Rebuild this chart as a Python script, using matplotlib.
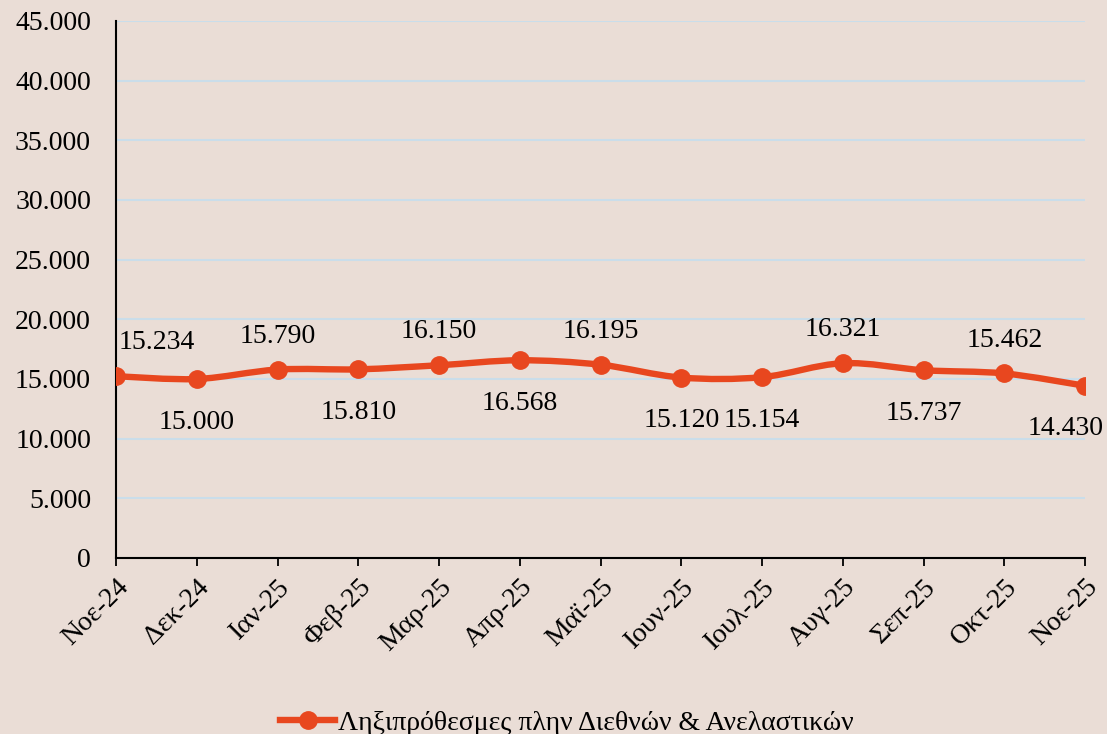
import numpy as np
import matplotlib.pyplot as plt
from matplotlib.path import Path
from matplotlib.patches import PathPatch
from matplotlib.lines import Line2D
from matplotlib.ticker import FuncFormatter

# Δεδομένα
months = ['Νοε-24', 'Δεκ-24', 'Ιαν-25', 'Φεβ-25', 'Μαρ-25', 'Απρ-25', 'Μαϊ-25',
          'Ιουν-25', 'Ιουλ-25', 'Αυγ-25', 'Σεπ-25', 'Οκτ-25', 'Νοε-25']
values = [15234, 15000, 15790, 15810, 16150, 16568, 16195,
          15120, 15154, 16321, 15737, 15462, 14430]
label_above = [True, False, True, False, True, False, True,
               False, False, True, False, True, False]
series_name = 'Ληξιπρόθεσμες πλην Διεθνών & Ανελαστικών'

bg = '#EADDD6'
orange = '#E8471F'
grid_col = '#CADDEA'
fs = 20

plt.rcParams['font.family'] = ['Liberation Serif', 'DejaVu Serif']

fig = plt.figure(figsize=(11.07, 7.34), dpi=100, facecolor=bg)
ax = fig.add_axes([0.1048, 0.2398, 0.8754, 0.7316], facecolor=bg)

x = np.arange(len(values))
y = np.array(values, dtype=float)

# καμπύλη εξομάλυνσης (Bezier) όπως στο Excel
verts = [(x[0], y[0])]
codes = [Path.MOVETO]
n = len(x)
for i in range(n - 1):
    p0 = np.array([x[max(i - 1, 0)], y[max(i - 1, 0)]])
    p1 = np.array([x[i], y[i]])
    p2 = np.array([x[i + 1], y[i + 1]])
    p3 = np.array([x[min(i + 2, n - 1)], y[min(i + 2, n - 1)]])
    c1 = p1 + (p2 - p0) / 6
    c2 = p2 - (p3 - p1) / 6
    verts += [tuple(c1), tuple(c2), tuple(p2)]
    codes += [Path.CURVE4] * 3
ax.add_patch(PathPatch(Path(verts, codes), facecolor='none', edgecolor=orange,
                       lw=4.6, capstyle='round', zorder=3))
ax.plot(x, y, 'o', color=orange, markersize=12.5, zorder=4)

for i, v in enumerate(values):
    txt = f'{v:,}'.replace(',', '.')
    dy = 24 if label_above[i] else -31
    dx = 0
    if i == 0:
        dx = 29
    if i == n - 1:
        dx = -14
    ax.annotate(txt, (x[i], v), xytext=(dx, dy), textcoords='offset points',
                ha='center', va='center', fontsize=fs, color='black', zorder=5)

ax.set_xlim(0, 12)
ax.set_ylim(0, 45000)
ax.set_yticks(np.arange(0, 45001, 5000))
ax.yaxis.set_major_formatter(FuncFormatter(lambda v, p: f'{int(v):,}'.replace(',', '.')))
ax.grid(axis='y', color=grid_col, lw=1.5, zorder=0)
ax.set_axisbelow(True)

ax.set_xticks(x)
ax.set_xticklabels(months, rotation=45, ha='right', rotation_mode='anchor')
ax.tick_params(axis='x', direction='out', length=6, width=1.3, labelsize=fs, pad=6)
ax.tick_params(axis='y', length=0, labelsize=fs, pad=18)

for s in ['top', 'right']:
    ax.spines[s].set_visible(False)
for s in ['left', 'bottom']:
    ax.spines[s].set_linewidth(1.5)
    ax.spines[s].set_color('black')
ax.spines['bottom'].set_zorder(2)

handle = Line2D([], [], color=orange, lw=4.6, marker='o', markersize=12.5)
fig.legend([handle], [series_name], loc='lower center', bbox_to_anchor=(0.512, -0.037),
           frameon=False, fontsize=fs, handlelength=2.0, handletextpad=0.1)

plt.savefig('out.png', dpi=100, facecolor=bg)
